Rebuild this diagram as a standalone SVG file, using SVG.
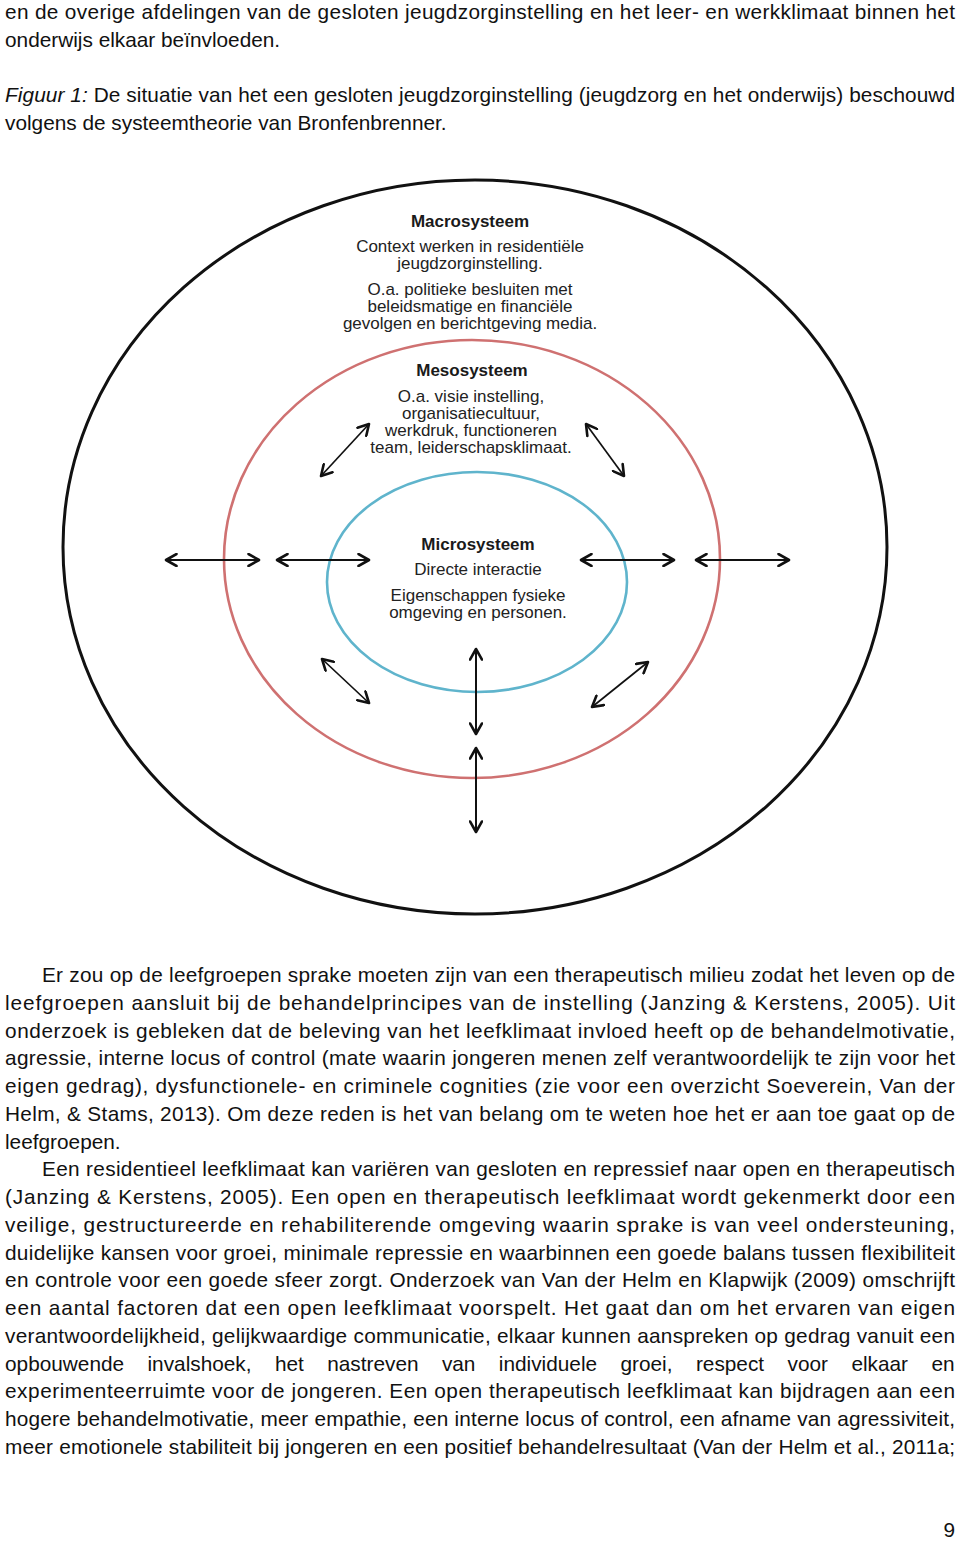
<svg xmlns="http://www.w3.org/2000/svg" width="960" height="1541" viewBox="0 0 960 1541">
<style>
.body{font-family:"Liberation Sans",Arial,sans-serif;font-size:20.8px;fill:#111}
.lbl{font-family:"Liberation Sans",Arial,sans-serif;font-size:17px;fill:#222;text-anchor:middle}
.hd{font-weight:bold;fill:#1a1a1a}
.arr{stroke:#111;stroke-width:2;fill:none;marker-start:url(#ah);marker-end:url(#ah)}
.arr.thin{stroke-width:1.7}
</style>
<defs>
<marker id="ah" viewBox="0 0 14 14" refX="12" refY="7" markerWidth="14" markerHeight="14" markerUnits="userSpaceOnUse" orient="auto-start-reverse">
<path d="M1.5,1 L12,7 L1.5,13" fill="none" stroke="#111" stroke-width="2.6" stroke-linecap="round" stroke-linejoin="round"/>
</marker>
</defs>
<rect width="960" height="1541" fill="#fff"/>

<text class="body" x="5" y="19" textLength="950" lengthAdjust="spacing">en de overige afdelingen van de gesloten jeugdzorginstelling en het leer- en werkklimaat binnen het</text>
<text class="body" x="5" y="47">onderwijs elkaar beïnvloeden.</text>
<text class="body" x="5" y="102" textLength="950" lengthAdjust="spacing"><tspan font-style="italic">Figuur 1:</tspan> De situatie van het een gesloten jeugdzorginstelling (jeugdzorg en het onderwijs) beschouwd</text>
<text class="body" x="5" y="130">volgens de systeemtheorie van Bronfenbrenner.</text>

<g id="macrosysteem">
<ellipse cx="475" cy="547" rx="412" ry="367" fill="none" stroke="#111" stroke-width="3"/>
<text class="lbl hd" x="470" y="227">Macrosysteem</text>
<text class="lbl" x="470" y="252">Context werken in residentiële</text>
<text class="lbl" x="470" y="269">jeugdzorginstelling.</text>
<text class="lbl" x="470" y="295">O.a. politieke besluiten met</text>
<text class="lbl" x="470" y="312">beleidsmatige en financiële</text>
<text class="lbl" x="470" y="329">gevolgen en berichtgeving media.</text>
</g>

<g id="mesosysteem">
<ellipse cx="472" cy="559" rx="248" ry="219" fill="none" stroke="#cf7171" stroke-width="2.6"/>
<text class="lbl hd" x="472" y="376">Mesosysteem</text>
<text class="lbl" x="471" y="402">O.a. visie instelling,</text>
<text class="lbl" x="471" y="419">organisatiecultuur,</text>
<text class="lbl" x="471" y="436">werkdruk, functioneren</text>
<text class="lbl" x="471" y="453">team, leiderschapsklimaat.</text>
</g>

<g id="microsysteem">
<ellipse cx="477" cy="582" rx="150" ry="110" fill="none" stroke="#5fb4cc" stroke-width="2.6"/>
<text class="lbl hd" x="478" y="550">Microsysteem</text>
<text class="lbl" x="478" y="575">Directe interactie</text>
<text class="lbl" x="478" y="601">Eigenschappen fysieke</text>
<text class="lbl" x="478" y="618">omgeving en personen.</text>
</g>

<g id="connectors">
<line class="arr" x1="166" y1="560" x2="259" y2="560"/>
<line class="arr" x1="277" y1="560" x2="369" y2="560"/>
<line class="arr" x1="581" y1="560" x2="674" y2="560"/>
<line class="arr" x1="696" y1="560" x2="789" y2="560"/>
<line class="arr thin" x1="321" y1="476" x2="369" y2="424"/>
<line class="arr thin" x1="586" y1="424" x2="624" y2="476"/>
<line class="arr thin" x1="322" y1="659" x2="369" y2="703"/>
<line class="arr thin" x1="648" y1="662" x2="592" y2="707"/>
<line class="arr" x1="476" y1="649" x2="476" y2="734"/>
<line class="arr" x1="476" y1="748" x2="476" y2="832"/>
</g>

<text class="body" x="42" y="982" textLength="913" lengthAdjust="spacing">Er zou op de leefgroepen sprake moeten zijn van een therapeutisch milieu zodat het leven op de</text>
<text class="body" x="5" y="1009.8" textLength="950" lengthAdjust="spacing">leefgroepen aansluit bij de behandelprincipes van de instelling (Janzing &amp; Kerstens, 2005). Uit</text>
<text class="body" x="5" y="1037.5" textLength="950" lengthAdjust="spacing">onderzoek is gebleken dat de beleving van het leefklimaat invloed heeft op de behandelmotivatie,</text>
<text class="body" x="5" y="1065.3" textLength="950" lengthAdjust="spacing">agressie, interne locus of control (mate waarin jongeren menen zelf verantwoordelijk te zijn voor het</text>
<text class="body" x="5" y="1093" textLength="950" lengthAdjust="spacing">eigen gedrag), dysfunctionele- en criminele cognities (zie voor een overzicht Soeverein, Van der</text>
<text class="body" x="5" y="1120.8" textLength="950" lengthAdjust="spacing">Helm, &amp; Stams, 2013). Om deze reden is het van belang om te weten hoe het er aan toe gaat op de</text>
<text class="body" x="5" y="1148.6">leefgroepen.</text>
<text class="body" x="42" y="1176.3" textLength="913" lengthAdjust="spacing">Een residentieel leefklimaat kan variëren van gesloten en repressief naar open en therapeutisch</text>
<text class="body" x="5" y="1204.1" textLength="950" lengthAdjust="spacing">(Janzing &amp; Kerstens, 2005). Een open en therapeutisch leefklimaat wordt gekenmerkt door een</text>
<text class="body" x="5" y="1231.8" textLength="950" lengthAdjust="spacing">veilige, gestructureerde en rehabiliterende omgeving waarin sprake is van veel ondersteuning,</text>
<text class="body" x="5" y="1259.6" textLength="950" lengthAdjust="spacing">duidelijke kansen voor groei, minimale repressie en waarbinnen een goede balans tussen flexibiliteit</text>
<text class="body" x="5" y="1287.4" textLength="950" lengthAdjust="spacing">en controle voor een goede sfeer zorgt. Onderzoek van Van der Helm en Klapwijk (2009) omschrijft</text>
<text class="body" x="5" y="1315.1" textLength="950" lengthAdjust="spacing">een aantal factoren dat een open leefklimaat voorspelt. Het gaat dan om het ervaren van eigen</text>
<text class="body" x="5" y="1342.9" textLength="950" lengthAdjust="spacing">verantwoordelijkheid, gelijkwaardige communicatie, elkaar kunnen aanspreken op gedrag vanuit een</text>
<text class="body" y="1370.6"><tspan x="5">opbouwende</tspan><tspan x="147.5">invalshoek,</tspan><tspan x="274.9">het</tspan><tspan x="327.2">nastreven</tspan><tspan x="441.9">van</tspan><tspan x="498.8">individuele</tspan><tspan x="620.5">groei,</tspan><tspan x="695.9">respect</tspan><tspan x="787.5">voor</tspan><tspan x="851.4">elkaar</tspan><tspan x="931.4">en</tspan></text>
<text class="body" x="5" y="1398.4" textLength="950" lengthAdjust="spacing">experimenteerruimte voor de jongeren. Een open therapeutisch leefklimaat kan bijdragen aan een</text>
<text class="body" x="5" y="1426.2" textLength="950" lengthAdjust="spacing">hogere behandelmotivatie, meer empathie, een interne locus of control, een afname van agressiviteit,</text>
<text class="body" x="5" y="1453.9" textLength="950" lengthAdjust="spacing">meer emotionele stabiliteit bij jongeren en een positief behandelresultaat (Van der Helm et al., 2011a;</text>

<text class="body" x="955" y="1537" text-anchor="end">9</text>
</svg>
